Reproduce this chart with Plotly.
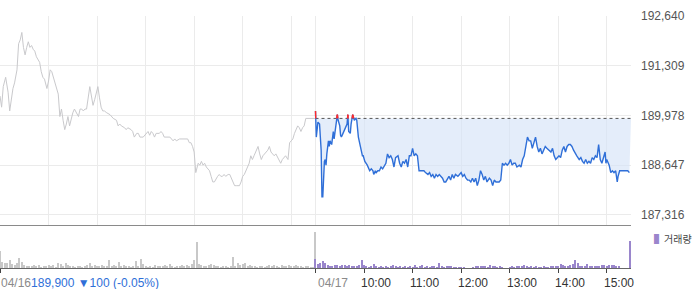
import plotly.graph_objects as go

# ---------------- data ----------------
REF_PRICE = 189900  # 04/16 close (reference line)

# 04/16 (previous day) minute offsets from 09:00 and prices
prev_t = [0, 2, 4, 7, 10, 12, 16, 18, 21, 23, 25, 27, 29, 31, 33, 35, 37, 39, 41, 43, 45, 47, 49, 51, 53, 55,
          58, 60, 62, 64, 66, 68, 70, 72, 74, 76, 78, 80, 82, 84, 86, 88, 90, 92, 95, 97, 99, 101, 103, 105,
          107, 109, 111, 113, 115, 117, 119, 121, 123, 125, 127, 129, 132, 136, 140, 144, 146, 148, 150, 154,
          156, 158, 162, 164, 166, 169, 171, 173, 177, 181, 183, 185, 187, 189, 191, 193, 197, 199, 201, 203,
          206, 210, 212, 214, 216, 218, 222, 226, 230, 232, 234, 236, 238, 240, 242, 245, 247, 249, 251, 253,
          255, 257, 259, 261, 263, 265, 267, 269, 271, 273, 275, 277, 279, 282, 284, 286, 288, 290, 292, 294,
          296, 298, 300, 302, 304, 306, 308, 310, 312, 314, 316, 319, 321, 323, 325, 327, 329, 331, 333, 335,
          337, 339, 341, 343, 345, 347, 349, 353, 356, 358, 360, 362, 364, 366, 368, 370, 372, 374, 376, 378,
          380, 382, 390]
prev_p = [190500, 190200, 190750, 191000, 190600, 190100, 190700, 190850, 191200, 191900, 192000, 192200,
          191800, 191600, 191800, 191950, 191800, 191850, 191750, 191700, 191550, 191450, 191400, 191150,
          191000, 190950, 190700, 190900, 191200, 191150, 191000, 190850, 190700, 190550, 189950, 190150,
          189850, 189600, 189750, 189950, 189700, 189900, 190050, 190150, 190050, 189950, 190150, 190150,
          190100, 190150, 190150, 190500, 190750, 190500, 190250, 190400, 190550, 190750, 190450, 190200,
          190100, 190100, 190050, 190000, 189900, 189850, 189700, 189750, 189700, 189650, 189600, 189650,
          189600, 189550, 189400, 189500, 189500, 189400, 189400, 189500, 189550, 189450, 189550, 189500,
          189400, 189500, 189500, 189550, 189500, 189400, 189400, 189400, 189350, 189300, 189350, 189300,
          189350, 189350, 189350, 189350, 189250, 189250, 189150, 189000, 188450, 188700, 188650, 188750,
          188650, 188700, 188600, 188550, 188500, 188350, 188200, 188200, 188300, 188350, 188400, 188350,
          188350, 188400, 188350, 188400, 188400, 188300, 188250, 188100, 188100, 188100, 188100, 188200,
          188350, 188400, 188500, 188600, 188700, 188900, 188800, 188900, 189000, 189150, 188950, 188800,
          188900, 188950, 189000, 189050, 189150, 189000, 188950, 188900, 188950, 188850, 188800, 188700,
          188800, 188900, 188800, 189250, 189300, 189350, 189500, 189600, 189700, 189650, 189550, 189650,
          189700, 189900, 189900, 189900, 189900]

# 04/17 (today) minute offsets from 09:00 and prices
today_t = [0, 1, 3, 5, 7, 8, 9, 10, 11, 12, 13, 14, 16, 17, 18, 20, 21, 22, 23, 25, 26, 27, 28, 30, 31, 32,
           34, 36, 38, 39, 40, 41, 43, 44, 46, 48, 50, 51, 53, 54, 55, 56, 58, 59, 61, 64, 65, 67, 69, 71, 72,
           74, 75, 77, 79, 81, 83, 85, 87, 89, 91, 93, 95, 97, 99, 102, 104, 106, 108, 110, 112, 114, 116,
           118, 120, 122, 124, 126, 128, 132, 134, 136, 139, 141, 143, 145, 147, 149, 151, 153, 155, 157,
           159, 161, 165, 167, 169, 171, 173, 176, 178, 180, 182, 184, 186, 188, 190, 192, 194, 196, 198,
           200, 202, 204, 206, 208, 210, 212, 215, 217, 219, 221, 223, 225, 227, 229, 231, 233, 235, 237,
           239, 241, 243, 245, 247, 249, 252, 254, 256, 258, 260, 262, 264, 266, 268, 270, 272, 274, 276,
           278, 280, 282, 284, 286, 289, 291, 293, 295, 297, 299, 301, 303, 305, 307, 309, 311, 313, 315,
           317, 319, 321, 323, 326, 328, 330, 332, 334, 336, 338, 340, 342, 344, 346, 348, 350, 352, 354,
           356, 358, 359, 360, 363, 365, 367, 369, 371, 373, 374, 376, 379, 383, 386, 388]
today_p = [190100, 189400, 189800, 189750, 189050, 187800, 187800, 188600, 188750, 188800, 188650, 188950,
           189300, 189150, 189300, 189200, 189450, 189550, 189350, 189650, 189900, 190000, 189850, 189700,
           189450, 189400, 189500, 189600, 189650, 189750, 190000, 189550, 189500, 189750, 190000, 189850,
           189900, 189850, 189400, 189300, 189200, 189050, 188900, 188900, 188750, 188650, 188600, 188500,
           188550, 188500, 188400, 188500, 188450, 188500, 188500, 188600, 188550, 188650, 188700, 188950,
           188850, 188900, 188800, 188600, 188850, 188900, 188700, 188600, 188750, 188700, 188800, 188600,
           188900, 188900, 189100, 188900, 188950, 188900, 188500, 188500, 188500, 188450, 188400, 188450,
           188350, 188400, 188300, 188400, 188350, 188400, 188350, 188300, 188200, 188200, 188350, 188250,
           188400, 188300, 188400, 188350, 188400, 188450, 188350, 188400, 188300, 188250, 188250, 188200,
           188300, 188200, 188300, 188100, 188250, 188500, 188400, 188250, 188350, 188200, 188300, 188250,
           188100, 188250, 188200, 188200, 188200, 188250, 188700, 188650, 188700, 188650, 188700, 188800,
           188650, 188700, 188700, 188600, 188650, 188600, 188800, 188900, 189150, 189400, 189300, 189300,
           189100, 189250, 189400, 189150, 189000, 189100, 188950, 189050, 189150, 189100, 189050, 189000,
           189100, 188900, 188800, 188850, 188900, 188850, 189050, 189150, 189000, 189150, 189200, 189200,
           189150, 189050, 188950, 188900, 188800, 188850, 188750, 188700, 188800, 188700, 188750, 188700,
           188850, 188800, 188900, 188850, 189200, 188800, 188700, 188850, 189000, 188700, 188800, 188650,
           188450, 188500, 188450, 188500, 188200, 188350, 188500, 188500, 188500, 188500, 188450]

# volume, 3-minute buckets from 09:00 (arbitrary units, thousands of shares)
prev_vol = [17, 6, 5, 5, 8, 4, 3, 5, 10, 6, 3, 2, 2, 2, 3, 2, 3, 1, 2, 2, 3, 2, 3, 1, 5, 4, 2, 5, 3, 2,
            2, 1, 2, 2, 1, 2, 3, 5, 2, 3, 2, 2, 3, 2, 2, 8, 2, 3, 2, 6, 2, 3, 2, 2, 1, 2, 7, 2, 9, 4,
            2, 1, 2, 1, 3, 2, 2, 2, 3, 2, 4, 2, 1, 2, 2, 3, 2, 3, 2, 4, 8, 26, 4, 3, 2, 2, 3, 4, 3, 2,
            2, 1, 2, 2, 1, 2, 11, 2, 5, 3, 4, 5, 2, 3, 2, 2, 1, 2, 2, 1, 2, 3, 2, 3, 2, 1, 3, 2, 2, 3,
            2, 2, 3, 2, 2, 1, 2, 2, 1, 1]
today_vol = [9, 4, 5, 7, 5, 3, 2, 2, 3, 3, 2, 3, 3, 2, 3, 2, 2, 2, 3, 8, 3, 2, 1, 2, 4, 2, 1, 2, 1, 2,
             1, 2, 3, 2, 1, 2, 1, 2, 1, 2, 1, 3, 1, 2, 3, 1, 2, 1, 2, 2, 1, 5, 2, 1, 2, 2, 2, 1, 1, 1,
             1, 1, 0, 0, 0, 1, 2, 2, 2, 2, 2, 1, 3, 2, 2, 1, 2, 1, 0, 0, 1, 2, 1, 2, 2, 2, 3, 2, 1, 2,
             1, 2, 1, 1, 2, 1, 1, 2, 2, 2, 2, 4, 3, 2, 2, 3, 4, 8, 5, 2, 2, 2, 4, 2, 2, 2, 2, 2, 3, 3,
             2, 3, 3, 3, 2, 2, 0, 0, 0, 0]
prev_close_vol = 36
today_close_vol = 27

DAY_LEN = 390  # minutes per session (09:00-15:30)
x_tick_vals = [0, 390, 450, 510, 570, 630, 690, 750]
x_tick_text = ["04/16", "04/17", "10:00", "11:00", "12:00", "13:00", "14:00", "15:00"]
grid_x_vals = [0, 60, 120, 180, 240, 300, 360, 390, 450, 510, 570, 630, 690, 750]
y_tick_vals = [187316, 188647, 189978, 191309, 192640]
summary_price = "189,900"
summary_change = "▼100 (-0.05%)"

# ---------------- derived ----------------
t2 = [DAY_LEN + t for t in today_t]

# red segments where price is above reference
red_x, red_y = [], []
for i in range(len(t2) - 1):
    xa, ya, xb, yb = t2[i], today_p[i], t2[i + 1], today_p[i + 1]
    if ya > REF_PRICE or yb > REF_PRICE:
        if ya > REF_PRICE and yb > REF_PRICE:
            red_x += [xa, xb, None]; red_y += [ya, yb, None]
        else:
            f = (REF_PRICE - ya) / (yb - ya)
            xc = xa + f * (xb - xa)
            if ya > REF_PRICE:
                red_x += [xa, xc, None]; red_y += [ya, REF_PRICE, None]
            else:
                red_x += [xc, xb, None]; red_y += [REF_PRICE, yb, None]

vol_x_prev = [i * 3 for i in range(len(prev_vol))] + [DAY_LEN - 1]
vol_y_prev = prev_vol + [prev_close_vol]
vol_x_today = [DAY_LEN + i * 3 for i in range(len(today_vol))] + [2 * DAY_LEN - 1]
vol_y_today = today_vol + [today_close_vol]

FONT = "Liberation Sans, Arial, sans-serif"
BLUE = "#2f6fd8"
GRAY_LINE = "#c9c9cc"
PURPLE = "#9a86cc"

fig = go.Figure()

# previous-day line
fig.add_trace(go.Scatter(x=prev_t, y=prev_p, mode="lines",
                         line=dict(color=GRAY_LINE, width=1), hoverinfo="skip",
                         xaxis="x", yaxis="y"))
# reference dotted line
fig.add_trace(go.Scatter(x=[t2[0], 2 * DAY_LEN], y=[REF_PRICE, REF_PRICE], mode="lines",
                         line=dict(color="#555555", width=1, dash="dot"), hoverinfo="skip",
                         xaxis="x", yaxis="y"))
# today line with fill to reference
fig.add_trace(go.Scatter(x=t2, y=today_p, mode="lines", fill="tonexty",
                         fillcolor="rgba(214,227,247,0.65)",
                         line=dict(color=BLUE, width=1.4), hoverinfo="skip",
                         xaxis="x", yaxis="y"))
fig.add_trace(go.Scatter(x=red_x, y=red_y, mode="lines",
                         line=dict(color="#ff2a2a", width=1.4), hoverinfo="skip",
                         xaxis="x", yaxis="y"))

# volume bars
fig.add_trace(go.Bar(x=vol_x_prev, y=vol_y_prev, width=1.3, marker=dict(color="#c8c8c8", line=dict(width=0)),
                     xaxis="x2", yaxis="y2", hoverinfo="skip"))
fig.add_trace(go.Bar(x=vol_x_today, y=vol_y_today, width=1.3, marker=dict(color=PURPLE, line=dict(width=0)),
                     xaxis="x2", yaxis="y2", hoverinfo="skip"))

H_PLOT = 252
fig.update_layout(
    width=700, height=289,
    margin=dict(l=0, r=69, t=16, b=21, pad=0),
    paper_bgcolor="white", plot_bgcolor="white",
    showlegend=False, bargap=0,
    font=dict(family=FONT, size=12, color="#555555"),
    xaxis=dict(domain=[0, 1], range=[0, 2 * DAY_LEN], anchor="y",
               tickmode="array", tickvals=grid_x_vals, showticklabels=False,
               showgrid=True, gridcolor="#ebebeb", gridwidth=1, zeroline=False,
               showline=True, linecolor="#8a8a8a", linewidth=1, ticks=""),
    yaxis=dict(domain=[43 / H_PLOT, 1], range=[187048, 192640], side="right", anchor="x",
               tickmode="array", tickvals=y_tick_vals, tickformat=",d",
               showgrid=True, gridcolor="#ebebeb", gridwidth=1, zeroline=False,
               showline=False, ticks="", ticklabelstandoff=9,
               tickfont=dict(family=FONT, size=12, color="#555555")),
    xaxis2=dict(domain=[0, 1], range=[0, 2 * DAY_LEN], anchor="y2", matches="x",
                tickmode="array", tickvals=x_tick_vals, showticklabels=False,
                ticks="outside", ticklen=4, tickcolor="#444444", tickwidth=1,
                showgrid=False, zeroline=False, showline=True, linecolor="#666666", linewidth=1),
    yaxis2=dict(domain=[0, 42 / H_PLOT], range=[0, 42], anchor="x2",
                showticklabels=False, showgrid=False, zeroline=False, showline=False, ticks=""),
)

# x labels (as annotations, left-aligned like the original)
label_y = -(282.5 - 268) / H_PLOT
for v, txt in zip(x_tick_vals, x_tick_text):
    if v == 0:
        text = (f"<span style='color:#8a8a8a'>{txt}</span>"
                f"<span style='color:{BLUE}'>{summary_price} {summary_change}</span>")
        fig.add_annotation(x=v, y=label_y, xref="x2", yref="paper", text=text, showarrow=False,
                           xanchor="left", yanchor="middle", xshift=-1,
                           font=dict(family=FONT, size=12))
    elif v == DAY_LEN:
        fig.add_annotation(x=v, y=label_y, xref="x2", yref="paper", text=txt, showarrow=False,
                           xanchor="left", yanchor="middle", xshift=0,
                           font=dict(family=FONT, size=12, color="#8a8a8a"))
    else:
        fig.add_annotation(x=v, y=label_y, xref="x2", yref="paper", text=txt, showarrow=False,
                           xanchor="left", yanchor="middle", xshift=-5,
                           font=dict(family=FONT, size=12, color="#333333"))

# volume legend
fig.add_annotation(x=652 / 631, y=(268 - 238) / H_PLOT, xref="paper", yref="paper",
                   text=f"<span style='color:{PURPLE}'>▌</span>거래량", showarrow=False,
                   xanchor="left", yanchor="middle",
                   font=dict(family="Noto Sans CJK KR, sans-serif", size=10, color="#444444"))

fig.write_html("out.html")
